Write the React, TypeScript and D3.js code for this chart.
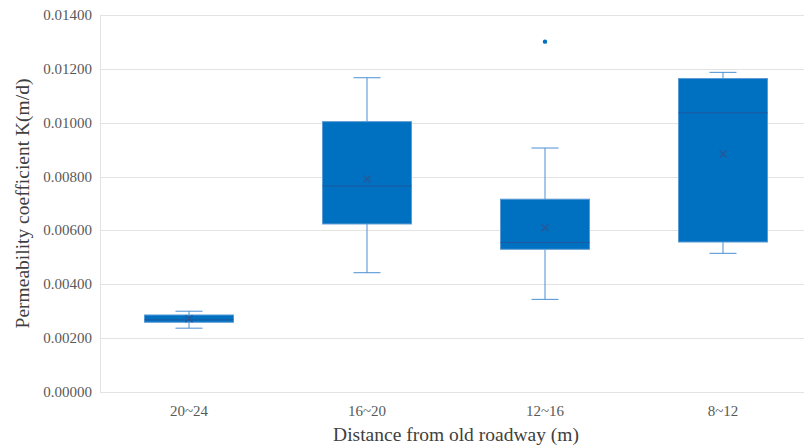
import React, { useEffect, useRef } from 'react';
import * as d3 from 'd3';

const categories = ['20~24', '16~20', '12~16', '8~12'];
const whiskerLow = [0.00237, 0.00443, 0.00344, 0.00515];
const q1 = [0.00259, 0.00624, 0.0053, 0.00557];
const median = [0.00268, 0.00765, 0.00555, 0.01037];
const q3 = [0.00286, 0.01004, 0.00716, 0.01164];
const whiskerHigh = [0.003, 0.01167, 0.00906, 0.01187];
const means = [0.00272, 0.00791, 0.0061, 0.00884];
const outliers = [[], [], [0.01301], []];
const yTicks = [0, 0.002, 0.004, 0.006, 0.008, 0.01, 0.012, 0.014];

const App = () => {
  const ref = useRef(null);

  useEffect(() => {
    if (!ref.current) return;
    document.body.style.margin = '0';
    d3.select(ref.current).selectAll('*').remove();

    const W = 804, H = 448;
    const left = 100, right = 812, top = 15, bottom = 392;

    const svg = d3.select(ref.current)
      .attr('width', W)
      .attr('height', H)
      .style('display', 'block')
      .style('font-family', '"Liberation Serif", "Times New Roman", serif');

    const x = d3.scaleBand().domain(categories).range([left, right]).paddingInner(0.5).paddingOuter(0.25);
    const y = d3.scaleLinear().domain([0, 0.014]).range([bottom, top]);

    // grid
    svg.append('g').selectAll('line').data(yTicks).join('line')
      .attr('x1', left).attr('x2', right)
      .attr('y1', (d) => Math.round(y(d)) + 0.5).attr('y2', (d) => Math.round(y(d)) + 0.5)
      .attr('stroke', '#e3e3e3').attr('stroke-width', 1);

    svg.append('line')
      .attr('x1', left + 0.5).attr('x2', left + 0.5)
      .attr('y1', top).attr('y2', bottom)
      .attr('stroke', '#e3e3e3');

    // y tick labels
    svg.append('g').selectAll('text').data(yTicks).join('text')
      .attr('x', 92).attr('y', (d) => y(d) + 5)
      .attr('text-anchor', 'end')
      .attr('font-size', 15)
      .attr('fill', '#595959')
      .text((d) => d.toFixed(5));

    // x tick labels
    svg.append('g').selectAll('text').data(categories).join('text')
      .attr('x', (d) => x(d) + x.bandwidth() / 2).attr('y', 416)
      .attr('text-anchor', 'middle')
      .attr('font-size', 15)
      .attr('fill', '#595959')
      .text((d) => d);

    const boxes = svg.append('g').selectAll('g').data(categories).join('g');
    const cx = (d) => x(d) + x.bandwidth() / 2;
    const cap = 27;

    // whiskers
    boxes.append('line')
      .attr('x1', cx).attr('x2', cx)
      .attr('y1', (d, i) => y(whiskerHigh[i])).attr('y2', (d, i) => y(q3[i]))
      .attr('stroke', '#4a8fd4');
    boxes.append('line')
      .attr('x1', cx).attr('x2', cx)
      .attr('y1', (d, i) => y(q1[i])).attr('y2', (d, i) => y(whiskerLow[i]))
      .attr('stroke', '#4a8fd4');
    boxes.append('line')
      .attr('x1', (d) => cx(d) - cap / 2).attr('x2', (d) => cx(d) + cap / 2)
      .attr('y1', (d, i) => y(whiskerHigh[i])).attr('y2', (d, i) => y(whiskerHigh[i]))
      .attr('stroke', '#4a8fd4');
    boxes.append('line')
      .attr('x1', (d) => cx(d) - cap / 2).attr('x2', (d) => cx(d) + cap / 2)
      .attr('y1', (d, i) => y(whiskerLow[i])).attr('y2', (d, i) => y(whiskerLow[i]))
      .attr('stroke', '#4a8fd4');

    // box
    boxes.append('rect')
      .attr('x', (d) => x(d)).attr('width', x.bandwidth())
      .attr('y', (d, i) => y(q3[i])).attr('height', (d, i) => y(q1[i]) - y(q3[i]))
      .attr('fill', '#0070c0')
      .attr('stroke', '#5b9bd5').attr('stroke-width', 1);

    // median
    boxes.append('line')
      .attr('x1', (d) => x(d)).attr('x2', (d) => x(d) + x.bandwidth())
      .attr('y1', (d, i) => y(median[i])).attr('y2', (d, i) => y(median[i]))
      .attr('stroke', '#1f5aa0').attr('stroke-width', 1);

    // mean marker
    const m = 3.5;
    boxes.append('path')
      .attr('d', (d, i) => {
        const px = cx(d), py = y(means[i]);
        return `M${px - m},${py - m}L${px + m},${py + m}M${px - m},${py + m}L${px + m},${py - m}`;
      })
      .attr('stroke', '#2a5596').attr('stroke-width', 1.2).attr('fill', 'none');

    // outliers
    boxes.selectAll('circle').data((d, i) => outliers[i].map((v) => ({ d, v }))).join('circle')
      .attr('cx', (o) => cx(o.d)).attr('cy', (o) => y(o.v))
      .attr('r', 2.2)
      .attr('fill', '#0070c0');

    // axis titles
    svg.append('text')
      .attr('transform', `translate(29,${(top + bottom) / 2}) rotate(-90)`)
      .attr('text-anchor', 'middle')
      .attr('font-size', 19.5)
      .attr('fill', '#404040')
      .text('Permeability coefficient K(m/d)');

    svg.append('text')
      .attr('x', (left + right) / 2).attr('y', 441)
      .attr('text-anchor', 'middle')
      .attr('font-size', 19.5)
      .attr('fill', '#404040')
      .text('Distance from old roadway (m)');
  }, []);

  return <svg ref={ref}></svg>;
};

export default App;
